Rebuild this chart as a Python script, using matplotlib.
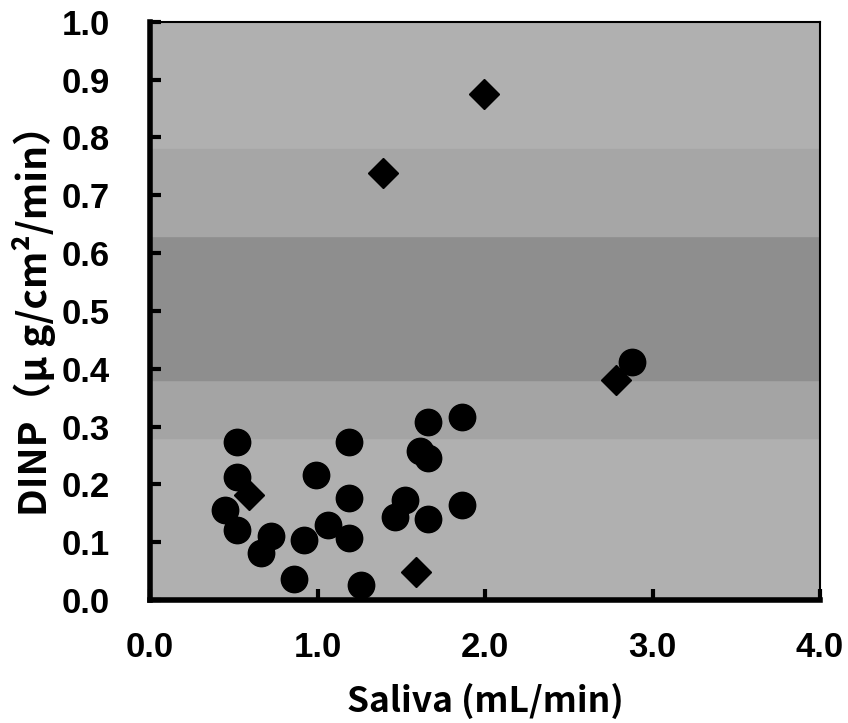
import matplotlib.pyplot as plt

# data
circle_x = [0.45, 0.52, 0.52, 0.52, 0.66, 0.72, 0.86, 0.92, 0.99, 1.06, 1.19, 1.19,
            1.19, 1.26, 1.46, 1.52, 1.61, 1.66, 1.66, 1.66, 1.865, 1.865, 2.88]
circle_y = [0.156, 0.274, 0.213, 0.121, 0.081, 0.110, 0.037, 0.104, 0.216, 0.130, 0.274, 0.176,
            0.107, 0.026, 0.144, 0.173, 0.257, 0.308, 0.245, 0.141, 0.317, 0.164, 0.412]
diamond_x = [0.59, 1.59, 1.39, 1.995, 2.78]
diamond_y = [0.182, 0.049, 0.739, 0.875, 0.38]

x_ticks = [0.0, 1.0, 2.0, 3.0, 4.0]
y_ticks = [0.0, 0.1, 0.2, 0.3, 0.4, 0.5, 0.6, 0.7, 0.8, 0.9, 1.0]

fig = plt.figure(figsize=(8.48, 7.23), dpi=100)
ax = fig.add_axes([0.177, 0.170, 0.790, 0.800])

# halftone-like gray background with darker band
ax.set_facecolor('#b0b0b0')
ax.axhspan(0.28, 0.38, color='#a4a4a4', zorder=0)
ax.axhspan(0.38, 0.63, color='#8e8e8e', zorder=0)
ax.axhspan(0.63, 0.78, color='#a6a6a6', zorder=0)

ax.plot(circle_x, circle_y, 'o', color='black', markersize=19, clip_on=False, zorder=3)
ax.plot(diamond_x, diamond_y, 'D', color='black', markersize=15, clip_on=False, zorder=3)

ax.set_xlim(0, 4)
ax.set_ylim(0, 1)
ax.set_xticks(x_ticks)
ax.set_yticks(y_ticks)
tick_font = dict(fontsize=25, fontweight='bold', family='Liberation Sans')
ax.set_xticklabels([f'{v:.1f}' for v in x_ticks], **tick_font)
ax.set_yticklabels([f'{v:.1f}' for v in y_ticks], **tick_font)
ax.tick_params(axis='both', direction='in', length=8, width=3)
ax.tick_params(axis='x', pad=22)
ax.tick_params(axis='y', pad=29)

for side in ['left', 'bottom']:
    ax.spines[side].set_linewidth(4)
for side in ['top', 'right']:
    ax.spines[side].set_linewidth(1.5)

label_font = dict(fontweight='bold', family=['Noto Sans CJK JP', 'DejaVu Sans'])
ax.set_xlabel('Saliva (mL/min)', fontsize=25.5, labelpad=14, **label_font)
ax.set_ylabel('DINP（μ g/cm²/min）', fontsize=28, labelpad=4, **label_font)

fig.savefig('out.png', dpi=100)
